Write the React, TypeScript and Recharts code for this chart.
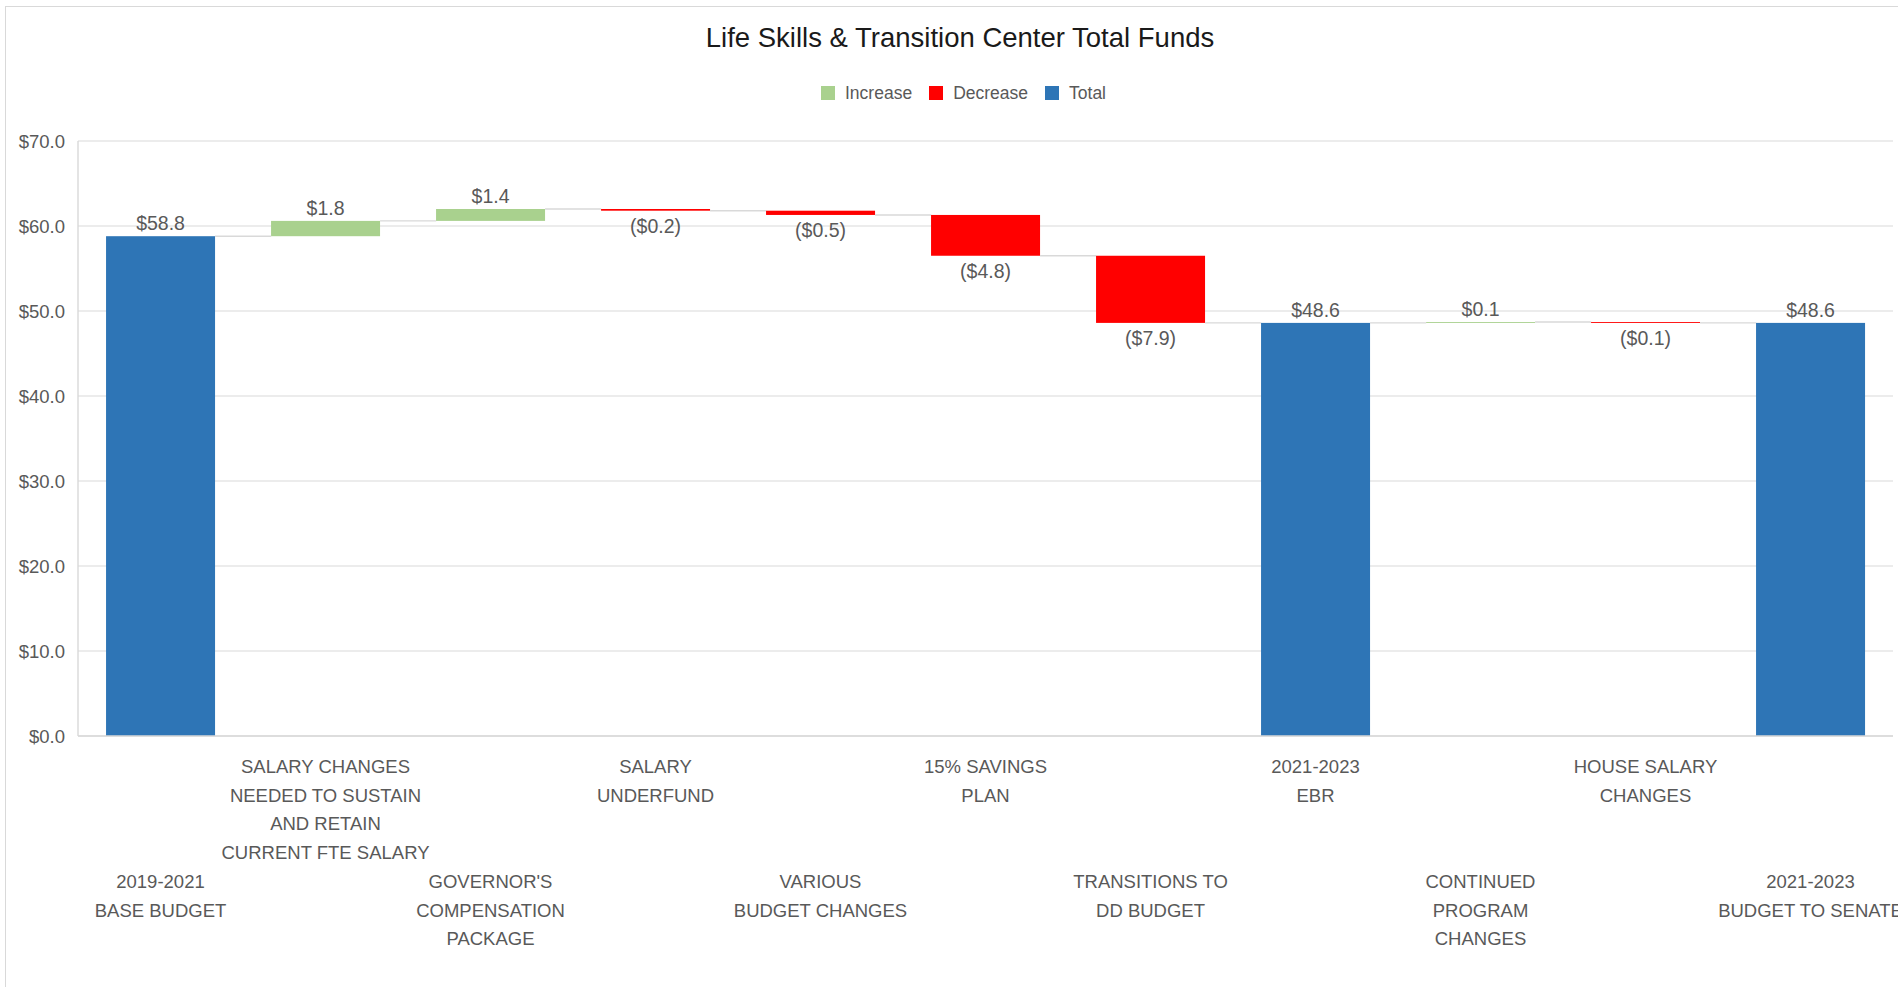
import React from "react";
import { BarChart, Bar, XAxis, YAxis, CartesianGrid, Legend, LabelList, Customized } from "recharts";

const chartTitle = "Life Skills & Transition Center Total Funds";

const categories = [
  "2019-2021\nBASE BUDGET",
  "SALARY CHANGES\nNEEDED TO SUSTAIN\nAND RETAIN\nCURRENT FTE SALARY",
  "GOVERNOR'S\nCOMPENSATION\nPACKAGE",
  "SALARY\nUNDERFUND",
  "VARIOUS\nBUDGET CHANGES",
  "15% SAVINGS\nPLAN",
  "TRANSITIONS TO\nDD BUDGET",
  "2021-2023\nEBR",
  "CONTINUED\nPROGRAM\nCHANGES",
  "HOUSE SALARY\nCHANGES",
  "2021-2023\nBUDGET TO SENATE",
];

const amounts = [58.8, 1.8, 1.4, -0.2, -0.5, -4.8, -7.9, 48.6, 0.1, -0.1, 48.6];

const kinds = [
  "total",
  "increase",
  "increase",
  "decrease",
  "decrease",
  "decrease",
  "decrease",
  "total",
  "increase",
  "decrease",
  "total",
];

const legendOrder = ["Increase", "Decrease", "Total"];

const yTicks = [0, 10, 20, 30, 40, 50, 60, 70];

const COLORS: Record<string, string> = {
  increase: "#A9D18E",
  decrease: "#FF0000",
  total: "#2E75B6",
};

const FONT = "'Liberation Sans', Arial, sans-serif";
const TEXT = "#595959";
const GRID = "#D9D9D9";
const GAP_RATIO = 0.17;
const LEGEND_H = 20;

const r1 = (v: number) => Math.round(v * 10) / 10;

type Row = {
  name: string;
  kind: string;
  amount: number;
  base: number;
  increase: number | null;
  decrease: number | null;
  total: number | null;
};

const rows: Row[] = (() => {
  let running = 0;
  return categories.map((name, i) => {
    const kind = kinds[i];
    const amt = amounts[i];
    const row: Row = { name, kind, amount: amt, base: 0, increase: null, decrease: null, total: null };
    if (kind === "total") {
      row.base = 0;
      row.total = amt;
      running = amt;
    } else if (kind === "increase") {
      row.base = running;
      row.increase = amt;
      running = r1(running + amt);
    } else {
      running = r1(running + amt);
      row.base = running;
      row.decrease = -amt;
    }
    return row;
  });
})();

const fmt = (v: number) => (v < 0 ? `($${(-v).toFixed(1)})` : `$${v.toFixed(1)}`);

const makeShape = (kind: string) => (props: any) => {
  const { x, y, width, height, payload, index } = props;
  if (!payload || payload.kind !== kind) return <g />;
  const idx = typeof index === "number" ? index : rows.indexOf(payload);
  const gapPx = (width * 2 * GAP_RATIO) / (1 - 2 * GAP_RATIO);
  const levelY = kind === "decrease" ? y + height : y;
  return (
    <g>
      <rect x={x} y={y} width={width} height={Math.max(height, 0.9)} fill={COLORS[kind]} />
      {idx < rows.length - 1 && (
        <line x1={x + width} x2={x + width + gapPx} y1={levelY} y2={levelY} stroke={GRID} strokeWidth={1.4} />
      )}
    </g>
  );
};

const makeLabel = (kind: string) => (props: any) => {
  const { x, y, width, height, index } = props;
  const row = rows[index];
  if (!row || row.kind !== kind) return null;
  const cx = x + width / 2;
  const ty = kind === "decrease" ? y + height + 22.5 : y - 6;
  return (
    <text x={cx} y={ty} textAnchor="middle" fill={TEXT} fontSize={19.5} fontFamily={FONT}>
      {fmt(row.amount)}
    </text>
  );
};

const CategoryTick = (props: any) => {
  const { x, y, payload } = props;
  const i = payload.index;
  const lines = String(payload.value).split("\n");
  const startY = y + (i % 2 === 1 ? 37 : 152);
  return (
    <text x={x} y={startY} textAnchor="middle" fill={TEXT} fontSize={18.5} fontFamily={FONT}>
      {lines.map((l, k) => (
        <tspan key={k} x={x} y={startY + k * 28.6}>
          {l}
        </tspan>
      ))}
    </text>
  );
};

const LegendContent = (props: any) => {
  const items = (props.payload || [])
    .filter((p: any) => p.type !== "none" && legendOrder.includes(p.value))
    .slice()
    .sort((a: any, b: any) => legendOrder.indexOf(a.value) - legendOrder.indexOf(b.value));
  return (
    <div style={{ display: "flex", alignItems: "center", height: LEGEND_H, paddingLeft: 821, fontFamily: FONT }}>
      {items.map((p: any, k: number) => (
        <div key={k} style={{ display: "flex", alignItems: "center", marginRight: 17 }}>
          <div style={{ width: 14, height: 14, background: p.color, marginRight: 10 }} />
          <span style={{ color: TEXT, fontSize: 17.5, lineHeight: `${LEGEND_H}px` }}>{p.value}</span>
        </div>
      ))}
    </div>
  );
};

const Title = () => (
  <text x={960} y={47} textAnchor="middle" fill="#1a1a1a" fontSize={27.5} fontFamily={FONT}>
    {chartTitle}
  </text>
);

export default function App() {
  return (
    <div style={{ position: "absolute", left: 0, top: 0, width: 1898, height: 987, overflow: "hidden", background: "#fff" }}>
      <div
        style={{
          position: "absolute",
          left: 5,
          top: 6,
          width: 2100,
          height: 2100,
          border: `1px solid ${GRID}`,
          boxSizing: "border-box",
        }}
      />
      <div style={{ position: "absolute", left: 0, top: 0 }}>
        <BarChart
          width={1898}
          height={987}
          data={rows}
          margin={{ top: 141 - LEGEND_H, right: 5, bottom: 0, left: 0 }}
          barCategoryGap={`${GAP_RATIO * 100}%`}
        >
          <Customized component={Title} />
          <CartesianGrid vertical={false} stroke={GRID} strokeWidth={1.2} />
          <XAxis
            dataKey="name"
            interval={0}
            height={251}
            tickLine={false}
            tickSize={0}
            tickMargin={0}
            axisLine={{ stroke: GRID, strokeWidth: 1.4 }}
            tick={<CategoryTick />}
          />
          <YAxis
            width={78}
            domain={[0, 70]}
            ticks={yTicks}
            tickLine={false}
            tickSize={0}
            tickMargin={13}
            axisLine={{ stroke: GRID, strokeWidth: 1.4 }}
            tickFormatter={(v: number) => `$${v.toFixed(1)}`}
            tick={{ fill: TEXT, fontSize: 18.5, fontFamily: FONT }}
          />
          <Legend
            verticalAlign="top"
            align="left"
            itemSorter={null as any}
            content={<LegendContent />}
            wrapperStyle={{ top: 83, left: 0, width: 1898, height: LEGEND_H }}
          />
          <Bar dataKey="base" stackId="w" fill="transparent" legendType="none" isAnimationActive={false} />
          <Bar dataKey="increase" name="Increase" stackId="w" fill={COLORS.increase} shape={makeShape("increase")} isAnimationActive={false}>
            <LabelList content={makeLabel("increase")} />
          </Bar>
          <Bar dataKey="decrease" name="Decrease" stackId="w" fill={COLORS.decrease} shape={makeShape("decrease")} isAnimationActive={false}>
            <LabelList content={makeLabel("decrease")} />
          </Bar>
          <Bar dataKey="total" name="Total" stackId="w" fill={COLORS.total} shape={makeShape("total")} isAnimationActive={false}>
            <LabelList content={makeLabel("total")} />
          </Bar>
        </BarChart>
      </div>
    </div>
  );
}
